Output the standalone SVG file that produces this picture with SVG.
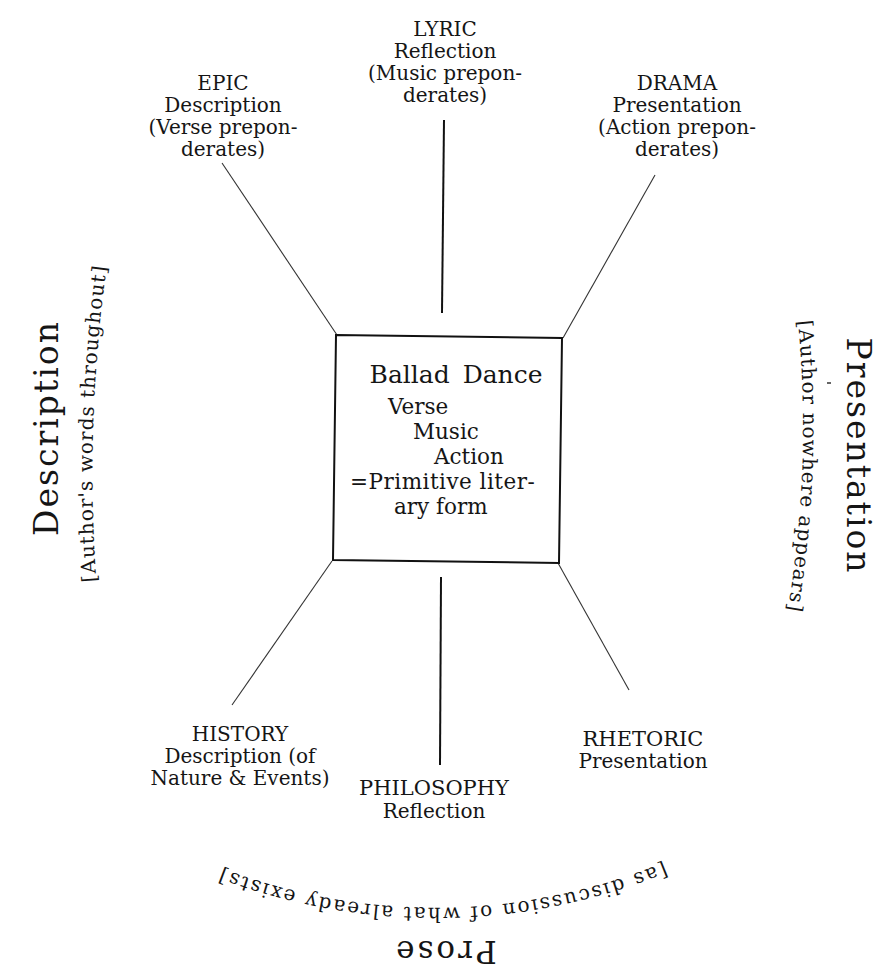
<svg xmlns="http://www.w3.org/2000/svg" width="887" height="980" viewBox="0 0 887 980">
<defs>
<style>
text{font-family:"DejaVu Serif","Liberation Serif",serif;fill:#151515}
.lab{font-size:20px;text-anchor:middle}
.box{font-size:21.5px}
.big{font-size:33px;letter-spacing:2px}
.arc{font-size:20px;letter-spacing:1px}
.thin{stroke:#333;stroke-width:1.1;fill:none}
.thick{stroke:#111;stroke-width:2;fill:none}
</style>
<path id="pLeft" d="M97,590 A1500,1500 0 0 1 108,258"/>
<path id="pRight" d="M797,312 A1100,1100 0 0 1 786,620"/>
<path id="pBottom" d="M692,850 A600,600 0 0 1 192,856"/>
</defs>
<rect width="887" height="980" fill="#fff"/>
<g id="connectors">
<line class="thin" x1="222" y1="163" x2="337" y2="335"/>
<line class="thick" x1="444" y1="120" x2="442" y2="313"/>
<line class="thin" x1="655" y1="175" x2="563" y2="338"/>
<line class="thin" x1="332" y1="561" x2="232" y2="705"/>
<line class="thick" x1="441" y1="577" x2="440" y2="765"/>
<line class="thin" x1="558" y1="563" x2="629" y2="690"/>
</g>
<g id="center">
<polygon points="336,335 562,338 559,563 333,560" fill="none" stroke="#111" stroke-width="2"/>
<text x="456" y="383" style="font-size:25px;text-anchor:middle" word-spacing="5">Ballad Dance</text>
<text class="box" x="388" y="414">Verse</text>
<text class="box" x="413" y="439">Music</text>
<text class="box" x="434" y="464">Action</text>
<text class="box" x="350" y="489" letter-spacing="0.5">=Primitive liter-</text>
<text class="box" x="394" y="514">ary form</text>
</g>
<g id="epic">
<text class="lab" x="223" y="90">EPIC</text>
<text class="lab" x="223" y="112">Description</text>
<text class="lab" x="223" y="134">(Verse prepon-</text>
<text class="lab" x="223" y="156">derates)</text>
</g>
<g id="lyric">
<text class="lab" x="445" y="36">LYRIC</text>
<text class="lab" x="445" y="58">Reflection</text>
<text class="lab" x="445" y="80">(Music prepon-</text>
<text class="lab" x="445" y="102">derates)</text>
</g>
<g id="drama">
<text class="lab" x="677" y="90">DRAMA</text>
<text class="lab" x="677" y="112">Presentation</text>
<text class="lab" x="677" y="134">(Action prepon-</text>
<text class="lab" x="677" y="156">derates)</text>
</g>
<g id="history">
<text class="lab" x="240" y="741">HISTORY</text>
<text class="lab" x="240" y="763">Description (of</text>
<text class="lab" x="240" y="785">Nature &amp; Events)</text>
</g>
<g id="philosophy">
<text class="lab" x="434" y="795" style="font-size:21px">PHILOSOPHY</text>
<text class="lab" x="434" y="818">Reflection</text>
</g>
<g id="rhetoric">
<text class="lab" x="643" y="746" style="font-size:21px">RHETORIC</text>
<text class="lab" x="643" y="768">Presentation</text>
</g>
<g id="left-side">
<text class="big" transform="translate(58,428) rotate(-90)" text-anchor="middle">Description</text>
<text class="arc"><textPath href="#pLeft" startOffset="50%" text-anchor="middle">[Author's words throughout]</textPath></text>
</g>
<g id="right-side">
<text class="big" transform="translate(847,456) rotate(90)" text-anchor="middle">Presentation</text>
<text class="arc"><textPath href="#pRight" startOffset="50%" text-anchor="middle">[Author nowhere appears]</textPath></text>
<line x1="827" y1="383" x2="831" y2="383" stroke="#333" stroke-width="1.5"/>
</g>
<g id="bottom">
<text style="font-size:20px;letter-spacing:2px"><textPath href="#pBottom" startOffset="50%" text-anchor="middle">[as discussion of what already exists]</textPath></text>
<text transform="translate(445,941) rotate(180)" text-anchor="middle" style="font-size:31px;letter-spacing:3px">Prose</text>
</g>
</svg>
